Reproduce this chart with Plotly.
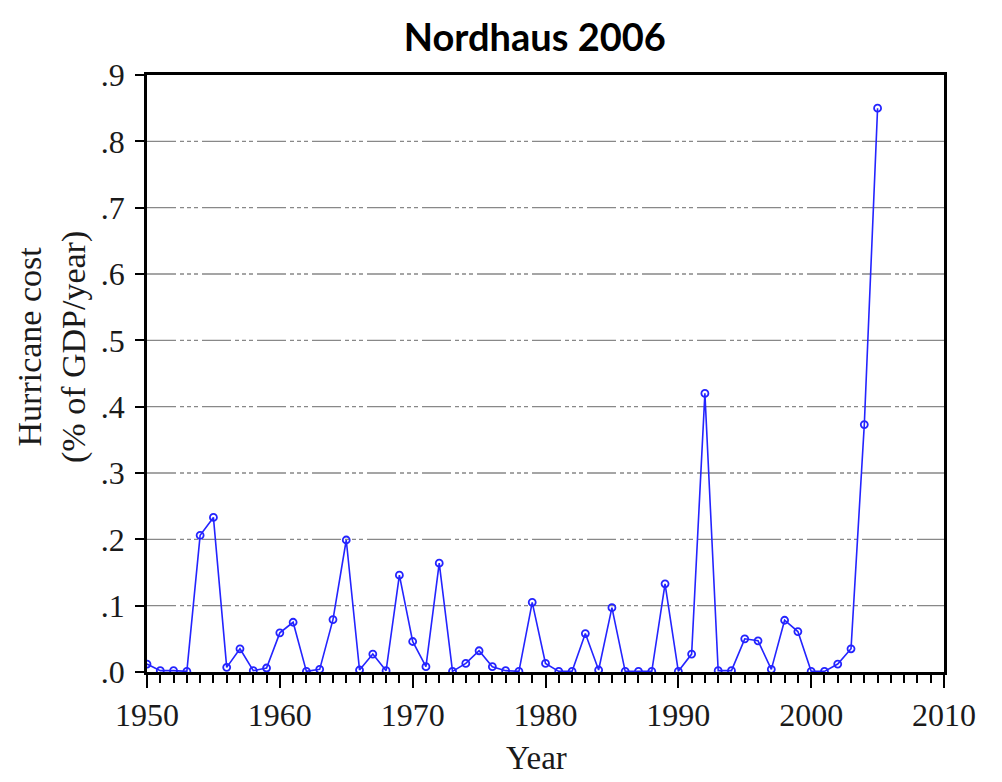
import plotly.graph_objects as go

# hurricane damages, % of GDP per year
years = list(range(1950, 2006))
cost = [0.012, 0.002, 0.002, 0.001, 0.206, 0.233, 0.007, 0.035, 0.002, 0.006,
        0.059, 0.075, 0.001, 0.004, 0.079, 0.199, 0.003, 0.027, 0.002, 0.146,
        0.046, 0.008, 0.164, 0.001, 0.013, 0.032, 0.008, 0.002, 0.001, 0.105,
        0.013, 0.001, 0.001, 0.058, 0.003, 0.097, 0.001, 0.001, 0.001, 0.133,
        0.001, 0.027, 0.420, 0.002, 0.002, 0.050, 0.047, 0.004, 0.078, 0.061,
        0.001, 0.001, 0.012, 0.035, 0.373, 0.850]

y_ticks = [0.0, 0.1, 0.2, 0.3, 0.4, 0.5, 0.6, 0.7, 0.8, 0.9]
y_labels = [".0", ".1", ".2", ".3", ".4", ".5", ".6", ".7", ".8", ".9"]
x_ticks = [1950, 1960, 1970, 1980, 1990, 2000, 2010]

serif = "Liberation Serif"
txt = "#1a1a1a"

fig = go.Figure()
fig.add_trace(go.Scatter(
    x=years, y=cost, mode="lines+markers",
    line=dict(color="#2424ff", width=1.6),
    marker=dict(symbol="circle-open", size=7, color="#2424ff",
                line=dict(width=1.8, color="#2424ff")),
    showlegend=False,
))

# long dash + three short dashes grid lines
for v in y_ticks[1:-1]:
    fig.add_shape(type="line", xref="paper", x0=0, x1=1, yref="y", y0=v, y1=v,
                  line=dict(color="#888888", width=1.4,
                            dash="29px,4px,4px,3px,4px,3px,4px,4px"),
                  layer="below")

# axis titles
fig.add_annotation(text="Hurricane cost<br>(% of GDP/year)", textangle=-90,
                   xref="paper", yref="paper", x=-0.12, y=0.545,
                   xanchor="center", yanchor="middle", showarrow=False,
                   font=dict(family=serif, size=34, color=txt))
fig.add_annotation(text="Year", xref="paper", yref="paper", x=0.489, y=-0.144,
                   xanchor="center", yanchor="middle", showarrow=False,
                   font=dict(family=serif, size=33, color=txt))

# page body adds ~8px offset, so the figure is sized to fit inside it
fig.update_layout(
    width=994, height=774,
    margin=dict(l=139, r=58, t=67, b=110),
    paper_bgcolor="white", plot_bgcolor="white",
    title=dict(text="<b>Nordhaus 2006</b>", x=0.530, xanchor="center",
               y=0.961, yanchor="middle",
               font=dict(family="Lato", size=38, color="black")),
    font=dict(family=serif, color=txt),
)
fig.update_xaxes(
    range=[1950, 2010], tickvals=x_ticks, ticks="outside", ticklen=13,
    tickwidth=2, tickcolor="black", automargin=False,
    minor=dict(dtick=1, ticks="outside", ticklen=8, tickwidth=1.5,
               tickcolor="black", showgrid=False),
    showgrid=False, zeroline=False,
    showline=True, linewidth=2.5, linecolor="black", mirror=True,
    tickfont=dict(family=serif, size=32, color=txt),
)
fig.update_yaxes(
    range=[0, 0.9], tickvals=y_ticks, ticktext=y_labels, ticks="outside",
    ticklen=9, tickwidth=1.5, tickcolor="black", automargin=False,
    ticklabelstandoff=4,
    showgrid=False, zeroline=False,
    showline=True, linewidth=2.5, linecolor="black", mirror=True,
    tickfont=dict(family=serif, size=32, color=txt),
)

fig.write_html("out.html")
